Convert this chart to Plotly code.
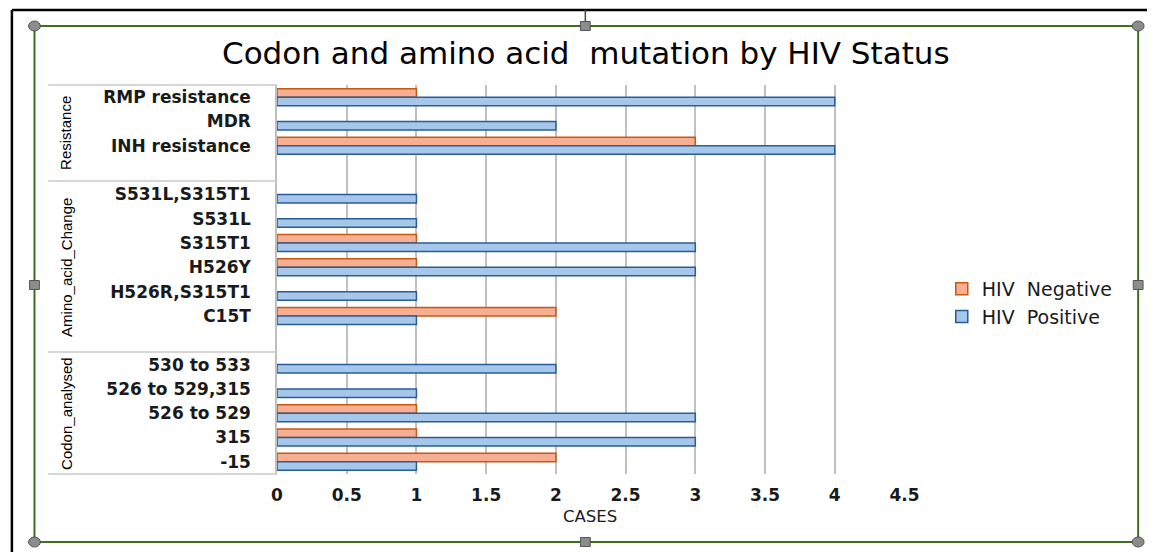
import plotly.graph_objects as go

W, H = 1162, 552

categories = ["RMP resistance", "MDR", "INH resistance", " ",
              "S531L,S315T1", "S531L", "S315T1", "H526Y", "H526R,S315T1", "C15T", "  ",
              "530 to 533", "526 to 529,315", "526 to 529", "315", "-15"]
hiv_negative = [1, None, 3, None, None, None, 1, 1, None, 2, None, None, None, 1, 1, 2]
hiv_positive = [4, 2, 4, None, 1, 1, 3, 3, 1, 1, None, 2, 1, 3, 3, 1]
groups = ["Resistance", "Amino_acid_Change", "Codon_analysed"]
x_ticks = [0, 0.5, 1, 1.5, 2, 2.5, 3, 3.5, 4, 4.5]


def px(x):
    return x / W


def py(y):
    return 1 - y / H


fig = go.Figure()
fig.add_trace(go.Bar(
    y=categories, x=hiv_negative, orientation="h", name="HIV\u00a0 Negative",
    marker=dict(color="#F7AE92", line=dict(color="#C55A11", width=1.5)),
))
fig.add_trace(go.Bar(
    y=categories, x=hiv_positive, orientation="h", name="HIV\u00a0 Positive",
    marker=dict(color="#A6C6EA", line=dict(color="#2A5C9A", width=1.5)),
))

WIDE = "DejaVu Sans, Verdana, sans-serif"
label_font = dict(family=WIDE, size=17, color="#1a1a1a", weight="bold")

shapes = []
# outer black border
shapes.append(dict(type="line", xref="paper", yref="paper", x0=px(6), x1=px(1162), y0=py(10), y1=py(10),
                   line=dict(color="#000000", width=2.5)))
shapes.append(dict(type="line", xref="paper", yref="paper", x0=px(6), x1=px(6), y0=py(10), y1=py(552),
                   line=dict(color="#000000", width=2.5)))
# green frame
shapes.append(dict(type="rect", xref="paper", yref="paper", x0=px(29), x1=px(1153), y0=py(26), y1=py(542),
                   line=dict(color="#3F6E1E", width=2)))
# rotation stem
shapes.append(dict(type="line", xref="paper", yref="paper", x0=px(590), x1=px(590), y0=py(10), y1=py(22),
                   line=dict(color="#444444", width=1.5)))
# handles: circles at corners
for (cx, cy) in [(29, 26), (1153, 26), (29, 542), (1153, 542)]:
    shapes.append(dict(type="circle", xref="paper", yref="paper", x0=px(cx - 6), x1=px(cx + 6),
                       y0=py(cy - 5), y1=py(cy + 5), fillcolor="#8C8C8C", line=dict(color="#555555", width=1)))
for (cx, cy) in [(590, 26), (590, 542), (29, 285), (1153, 285)]:
    shapes.append(dict(type="rect", xref="paper", yref="paper", x0=px(cx - 5), x1=px(cx + 5),
                       y0=py(cy - 4.5), y1=py(cy + 4.5), fillcolor="#8C8C8C", line=dict(color="#555555", width=1)))
# category label box lines
for yy in [85, 181, 352, 474]:
    shapes.append(dict(type="line", xref="paper", yref="paper", x0=px(43), x1=px(276), y0=py(yy), y1=py(yy),
                       line=dict(color="#C8C8C8", width=1.5)))

annotations = [
    dict(text="Codon and amino acid\u00a0 mutation by HIV Status", x=px(591), y=py(53), xref="paper", yref="paper",
         showarrow=False, xanchor="center", yanchor="middle",
         font=dict(family=WIDE, size=31, color="#000000")),
    dict(text="CASES", x=px(595), y=py(516), xref="paper", yref="paper", showarrow=False,
         xanchor="center", yanchor="middle",
         font=dict(family=WIDE, size=16.5, color="#1a1a1a")),
]
group_centers = [133, 267, 413]
for g, cy in zip(groups, group_centers):
    annotations.append(dict(text=g, x=px(61), y=py(cy), xref="paper", yref="paper", showarrow=False,
                            textangle=-90, xanchor="center", yanchor="middle",
                            font=dict(family="Liberation Sans Narrow, Liberation Sans, sans-serif",
                                      size=15, color="#000000")))

fig.update_layout(
    autosize=True, height=H,
    margin=dict(l=0, r=0, t=0, b=0),
    paper_bgcolor="#FFFFFF", plot_bgcolor="#FFFFFF",
    barmode="group", bargap=0.3, bargroupgap=0.0,
    showlegend=True,
    legend=dict(x=px(953), y=py(270), xanchor="left", yanchor="top", bgcolor="rgba(0,0,0,0)",
                font=dict(family=WIDE, size=19, color="#1a1a1a"),
                tracegroupgap=0, itemwidth=30),
    xaxis=dict(domain=[px(276), px(915)], range=[0, 4.5], tickvals=x_ticks,
               ticktext=[str(v) for v in x_ticks], showgrid=True, gridcolor="#C0C0C0", gridwidth=1.5,
               zeroline=False, showline=False, ticks="outside", ticklen=6, tickcolor="rgba(0,0,0,0)",
               tickfont=label_font),
    yaxis=dict(domain=[py(474), py(85)], type="category", categoryorder="array", categoryarray=categories,
               autorange="reversed", showgrid=False, zeroline=False, showline=True, linecolor="#BFBFBF",
               linewidth=1.5, ticks="outside", ticklen=21, tickcolor="rgba(0,0,0,0)", tickfont=label_font),
    shapes=shapes,
    annotations=annotations,
)

fig.write_html(
    "out.html",
    config={"displayModeBar": False, "responsive": True},
    default_width="100%",
    default_height="552px",
    post_script=("document.body.style.margin='0';"
                 "document.body.style.overflow='hidden';"
                 "document.documentElement.style.overflow='hidden';"
                 "Plotly.Plots.resize(document.getElementById('{plot_id}'));"),
)
